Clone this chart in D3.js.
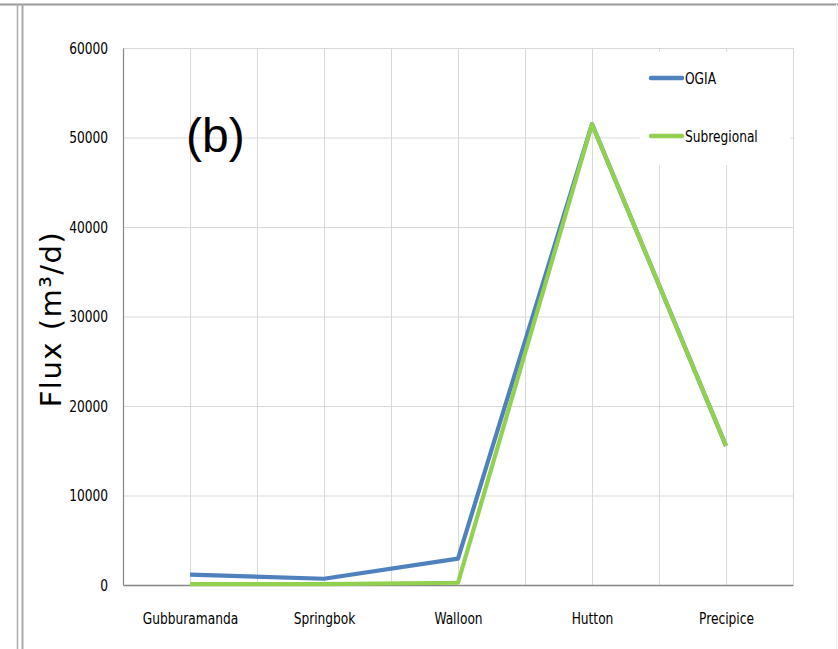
<!DOCTYPE html>
<html>
<head>
<meta charset="utf-8">
<script src="https://cdn.jsdelivr.net/npm/d3@7"></script>
<style>
  body { margin: 0; background: #fff; }
  .tick text, .legtext { font-family: "Liberation Sans Narrow", "DejaVu Sans Condensed", sans-serif; font-size: 16px; fill: #000; }
</style>
</head>
<body>
<svg id="svg"></svg>
<script>
// chart data
const units = ['Gubburamanda', 'Springbok', 'Walloon', 'Hutton', 'Precipice'];
const ogia = [1150, 700, 2950, 51500, 15550];
const subregional = [100, 100, 250, 51500, 15550];
const yTicks = [0, 10000, 20000, 30000, 40000, 50000, 60000];
const seriesNames = ['OGIA', 'Subregional'];
const seriesColors = ['#4f81bd', '#92d050'];

let w = 838, h = 649;
let svg = d3.select('#svg').attr('width', w).attr('height', h);

// outer frames
svg.append('line').attr('x1', 0).attr('x2', w).attr('y1', 4.5).attr('y2', 4.5)
   .attr('stroke', '#999').attr('stroke-width', 2);
svg.append('line').attr('x1', 17.5).attr('x2', 17.5).attr('y1', 4).attr('y2', h)
   .attr('stroke', '#aaa').attr('stroke-width', 1.5);
svg.append('line').attr('x1', 22.5).attr('x2', 22.5).attr('y1', 4).attr('y2', h)
   .attr('stroke', '#aaa').attr('stroke-width', 2);
svg.append('line').attr('x1', 836.5).attr('x2', 836.5).attr('y1', 4).attr('y2', h)
   .attr('stroke', '#eee').attr('stroke-width', 1);

let pLeft = 123, pRight = 793, pTop = 48, pBottom = 585;

let x = d3.scalePoint().domain(units).range([pLeft, pRight]).padding(0.5);
let step = x.step();
let y = d3.scaleLinear().domain([0, 60000]).range([pBottom, pTop]);

// gridlines: horizontal at ticks, vertical at every half category
let grid = svg.append('g');
grid.selectAll('.hg').data(yTicks.filter(d => d > 0)).enter().append('line')
  .attr('x1', pLeft).attr('x2', pRight)
  .attr('y1', d => y(d) + 0.5).attr('y2', d => y(d) + 0.5)
  .attr('stroke', '#d9d9d9').attr('stroke-width', 1);
let vx = d3.range(0, units.length * 2 + 1).map(i => pLeft + i * step / 2);
grid.selectAll('.vg').data(vx.slice(1)).enter().append('line')
  .attr('x1', d => Math.round(d) + 0.5).attr('x2', d => Math.round(d) + 0.5)
  .attr('y1', pTop).attr('y2', pBottom)
  .attr('stroke', '#d9d9d9').attr('stroke-width', 1);

// axes (labels squeezed sideways to look like the narrow original font)
let yAxis = d3.axisLeft(y).tickValues(yTicks).tickSize(0).tickPadding(0).tickFormat(d3.format('d'));
let gy = svg.append('g').attr('transform', `translate(${pLeft},0)`).call(yAxis);
gy.select('.domain').attr('stroke', '#868686').attr('stroke-width', 1.2);
gy.selectAll('.tick text').attr('x', null).attr('transform', 'translate(-15,0) scale(0.85,1)');

let xAxis = d3.axisBottom(x).tickSize(0).tickPadding(28);
let gx = svg.append('g').attr('transform', `translate(0,${pBottom})`).call(xAxis);
gx.select('.domain').attr('stroke', '#868686').attr('stroke-width', 1.5);
gx.selectAll('.tick text').attr('transform', 'scale(0.85,1)');

// legend background covers gridlines
svg.append('rect').attr('x', 640).attr('y', 52).attr('width', 150).attr('height', 113).attr('fill', '#fff');

// lines
let line = d3.line().x((d, i) => x(units[i])).y(d => y(d));
[ogia, subregional].forEach((s, k) => {
  svg.append('path').datum(s)
    .attr('d', line)
    .attr('fill', 'none')
    .attr('stroke', seriesColors[k])
    .attr('stroke-width', 4.2)
    .attr('stroke-linejoin', 'round');
});

// legend
let leg = svg.append('g');
seriesNames.forEach((n, k) => {
  let ly = 78 + k * 58;
  leg.append('line').attr('x1', 651).attr('x2', 682).attr('y1', ly).attr('y2', ly)
    .attr('stroke', seriesColors[k]).attr('stroke-width', 4.5).attr('stroke-linecap', 'round');
  leg.append('text').attr('class', 'legtext')
    .attr('transform', `translate(685,${ly + 6}) scale(0.85,1)`)
    .text(n);
});

// axis title
svg.append('text')
  .attr('transform', 'translate(61,319) rotate(-90)')
  .attr('text-anchor', 'middle')
  .style('font-family', '"DejaVu Sans", sans-serif')
  .style('font-size', '29px')
  .style('letter-spacing', '1.5px')
  .text('Flux (m³/d)');

// panel label
svg.append('text')
  .attr('x', 186).attr('y', 152)
  .style('font-family', '"Liberation Sans", Arial, sans-serif')
  .style('font-size', '48px')
  .text('(b)');
</script>
</body>
</html>
